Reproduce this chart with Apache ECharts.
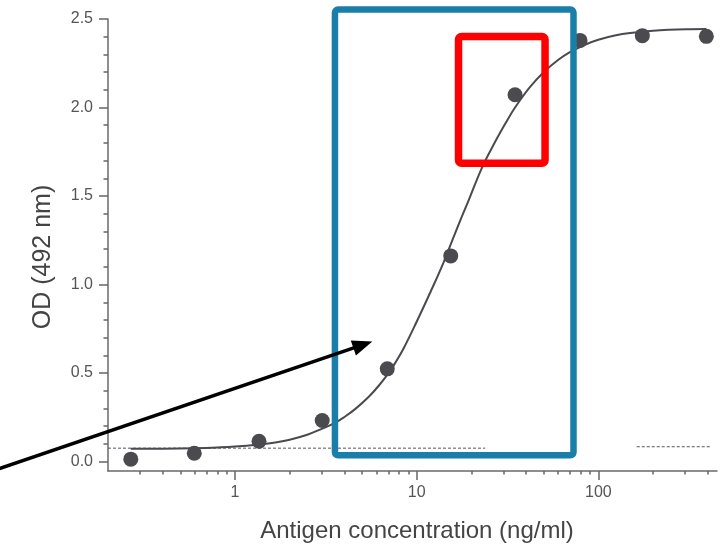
<!DOCTYPE html>
<html>
<head>
<meta charset="utf-8">
<script src="https://cdn.jsdelivr.net/npm/echarts@6/dist/echarts.min.js"></script>
<style>html,body{margin:0;padding:0;background:#fff;}#c{width:724px;height:546px;}</style>
</head>
<body>
<div id="c"></div>
<script>
// Measured points
const concentration = [0.267, 0.597, 1.356, 3.02, 6.89, 15.4, 34.8, 79.3, 174.7, 393.2];
const od = [0.014, 0.047, 0.115, 0.232, 0.524, 1.162, 2.072, 2.379, 2.406, 2.402];
// Fitted curve
const fitX = [0.267, 0.4, 0.6, 0.8, 1.0, 1.35, 1.7, 2.0, 2.5, 3.0, 3.55, 4.0, 4.6, 5.47, 6.2, 7.0, 7.67, 8.5, 10, 12, 14, 15.65, 17.5, 19.4, 23, 27, 31, 34.8, 42, 51.3, 60, 69, 85, 100, 125, 154, 200, 245, 320, 393];
const fitY = [0.072, 0.073, 0.076, 0.080, 0.085, 0.097, 0.110, 0.124, 0.152, 0.185, 0.219, 0.252, 0.298, 0.368, 0.43, 0.50, 0.562, 0.642, 0.79, 0.965, 1.12, 1.245, 1.37, 1.48, 1.665, 1.805, 1.915, 2.0, 2.115, 2.21, 2.268, 2.31, 2.356, 2.383, 2.408, 2.422, 2.434, 2.439, 2.442, 2.443];
// Dotted cutoff segments
const cutoffAX = [0.2, 23.8];
const cutoffAY = 0.076;
const cutoffBX = [162.7, 415.7];
const cutoffBY = 0.084;
// Axis ticks
const yTicks = [0, 0.5, 1.0, 1.5, 2.0, 2.5];
const yMinorTicks = [0.1, 0.2, 0.3, 0.4, 0.6, 0.7, 0.8, 0.9, 1.1, 1.2, 1.3, 1.4, 1.6, 1.7, 1.8, 1.9, 2.1, 2.2, 2.3, 2.4];
const xTicks = [1, 10, 100];
const xMinorTicks = [0.3, 0.4, 0.5, 0.6, 0.7, 0.8, 0.9, 2, 3, 4, 5, 6, 7, 8, 9, 20, 30, 40, 50, 60, 70, 80, 90, 200, 300, 400];
// Annotations in data units: [xFrom, xTo, yFrom, yTo]
const blueBox = [3.55, 73.0, 0.036, 2.553];
const redBox = [17.0, 50.9, 1.685, 2.401];
const arrow = [0.0502, 5.70, -0.040, 0.678];

const xMin = 0.2, xMax = 450, yMin = -0.053, yMax = 2.5;
const FONT = '"Liberation Sans", Arial, sans-serif';
const DARK = '#4a4a4f';

function boxRenderer(color, width) {
  return function (params, api) {
    const p0 = api.coord([api.value(0), api.value(2)]);
    const p1 = api.coord([api.value(1), api.value(3)]);
    return {
      type: 'rect',
      shape: { x: Math.min(p0[0], p1[0]), y: Math.min(p0[1], p1[1]), width: Math.abs(p1[0] - p0[0]), height: Math.abs(p1[1] - p0[1]), r: 3 },
      style: { fill: 'none', stroke: color, lineWidth: width, lineJoin: 'round' }
    };
  };
}

function arrowRenderer(params, api) {
  const s = api.coord([api.value(0), api.value(2)]);
  const t = api.coord([api.value(1), api.value(3)]);
  const dx = t[0] - s[0], dy = t[1] - s[1];
  const len = Math.sqrt(dx * dx + dy * dy);
  const ux = dx / len, uy = dy / len;
  const headLen = 20, headHalf = 8;
  const bx = t[0] - ux * headLen, by = t[1] - uy * headLen;
  return {
    type: 'group',
    children: [
      { type: 'line', shape: { x1: s[0], y1: s[1], x2: bx + ux * 2, y2: by + uy * 2 }, style: { stroke: '#000', lineWidth: 3.5 } },
      { type: 'polygon', shape: { points: [[t[0], t[1]], [bx - uy * headHalf, by + ux * headHalf], [bx + uy * headHalf, by - ux * headHalf]] }, style: { fill: '#000' } }
    ]
  };
}

const chart = echarts.init(document.getElementById('c'), null, { renderer: 'canvas' });
const axisLineStyle = { color: '#6a6a6a', width: 1.5 };
chart.setOption({
  animation: false,
  backgroundColor: '#fff',
  grid: { left: 108, right: 7, top: 19, bottom: 75, containLabel: false, outerBoundsMode: 'none' },
  xAxis: [
    {
      type: 'log', logBase: 10, min: xMin, max: xMax, position: 'bottom',
      axisLine: { show: true, onZero: false, lineStyle: axisLineStyle },
      axisTick: { show: true, customValues: xTicks, length: 9, lineStyle: { color: '#666', width: 1.5 } },
      axisLabel: { customValues: xTicks, margin: 14, fontSize: 16, color: '#555', fontFamily: FONT, formatter: v => String(v) },
      splitLine: { show: false }, minorTick: { show: false },
      name: 'Antigen concentration (ng/ml)', nameLocation: 'middle', nameGap: 48,
      nameTextStyle: { fontSize: 24, color: '#444', fontFamily: FONT, padding: [0, 0, 0, 9] }
    },
    {
      type: 'log', logBase: 10, min: xMin, max: xMax, position: 'bottom',
      axisLine: { show: false, onZero: false },
      axisTick: { show: true, customValues: xMinorTicks, length: 3.5, lineStyle: { color: '#666', width: 1.5 } },
      axisLabel: { show: false }, splitLine: { show: false }
    }
  ],
  yAxis: [
    {
      type: 'value', min: yMin, max: yMax, position: 'left',
      axisLine: { show: true, onZero: false, lineStyle: axisLineStyle },
      axisTick: { show: true, customValues: yTicks, length: 9, lineStyle: { color: '#666', width: 1.5 } },
      axisLabel: { customValues: yTicks, margin: 15, fontSize: 16, color: '#555', fontFamily: FONT, formatter: v => Number(v).toFixed(1) },
      splitLine: { show: false },
      name: 'OD (492 nm)', nameLocation: 'middle', nameGap: 52,
      nameTextStyle: { fontSize: 25, color: '#444', fontFamily: FONT, padding: [0, 24, 0, 0] }
    },
    {
      type: 'value', min: yMin, max: yMax, position: 'left',
      axisLine: { show: false, onZero: false },
      axisTick: { show: true, customValues: yMinorTicks, length: 4.5, lineStyle: { color: '#666', width: 1.5 } },
      axisLabel: { show: false }, splitLine: { show: false }
    }
  ],
  series: [
    {
      type: 'line', name: 'cutoffA', xAxisIndex: 0, yAxisIndex: 0, symbol: 'none', silent: true,
      data: cutoffAX.map(x => [x, cutoffAY]),
      lineStyle: { color: '#555', width: 1, type: [3, 2] }, z: 2
    },
    {
      type: 'line', name: 'cutoffB', xAxisIndex: 0, yAxisIndex: 0, symbol: 'none', silent: true,
      data: cutoffBX.map(x => [x, cutoffBY]),
      lineStyle: { color: '#555', width: 1, type: [3, 2] }, z: 2
    },
    {
      type: 'line', name: 'fit', xAxisIndex: 0, yAxisIndex: 0, symbol: 'none', smooth: 0.4,
      data: fitX.map((x, i) => [x, fitY[i]]),
      lineStyle: { color: DARK, width: 2 }, z: 3
    },
    {
      type: 'scatter', name: 'OD', xAxisIndex: 0, yAxisIndex: 0, symbol: 'circle', symbolSize: 15,
      data: concentration.map((x, i) => [x, od[i]]),
      itemStyle: { color: DARK, opacity: 1 }, z: 4
    },
    {
      type: 'custom', name: 'blueBox', xAxisIndex: 0, yAxisIndex: 0, clip: false, silent: true,
      encode: { x: [0, 1], y: [2, 3] }, data: [blueBox], renderItem: boxRenderer('#1a7fa8', 6.5), z: 10
    },
    {
      type: 'custom', name: 'redBox', xAxisIndex: 0, yAxisIndex: 0, clip: false, silent: true,
      encode: { x: [0, 1], y: [2, 3] }, data: [redBox], renderItem: boxRenderer('#ff0000', 7.5), z: 11
    },
    {
      type: 'custom', name: 'arrow', xAxisIndex: 0, yAxisIndex: 0, clip: false, silent: true,
      encode: { x: [0, 1], y: [2, 3] }, data: [arrow], renderItem: arrowRenderer, z: 12
    }
  ]
});
</script>
</body>
</html>
